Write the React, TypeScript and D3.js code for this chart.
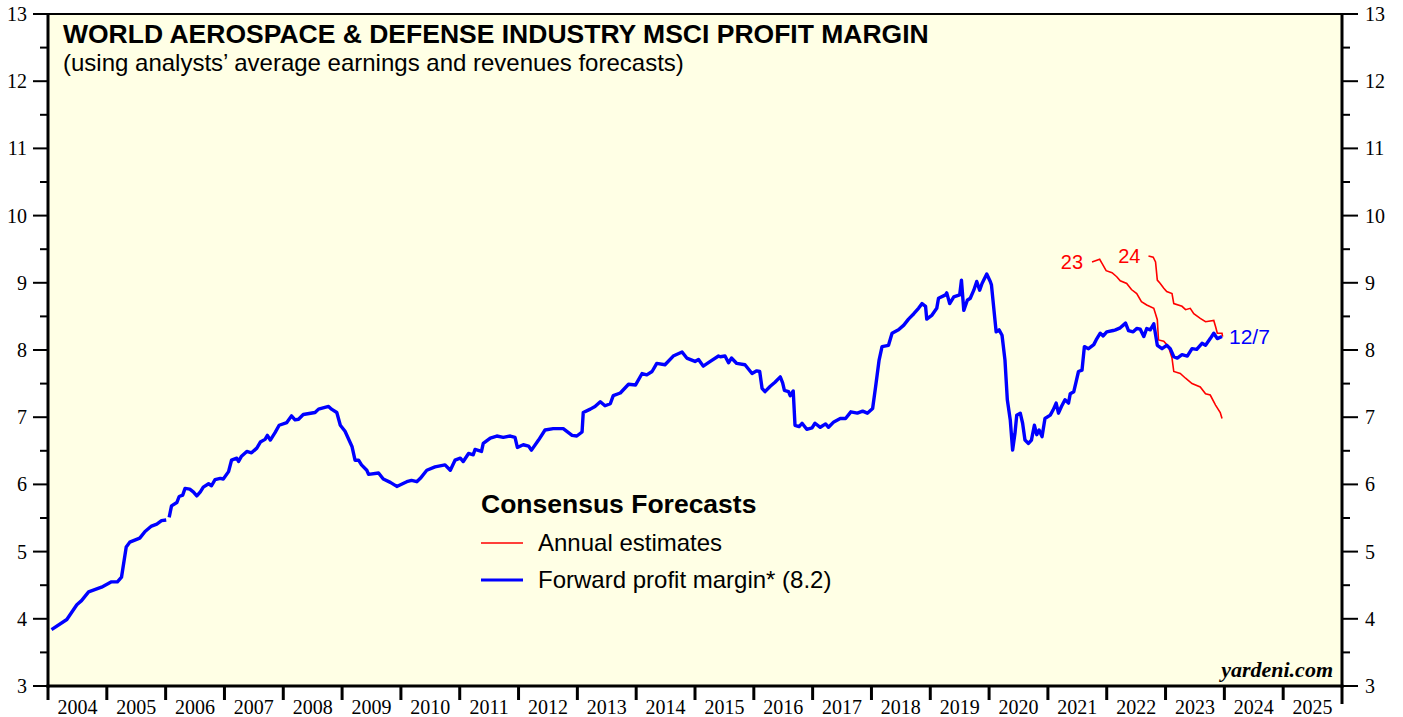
import React from 'react';
import * as d3 from 'd3';

// forward profit margin (weekly) [year, value]
const forwardMargin: [number, number | null][] = [
  [2004.06, 3.84], [2004.32, 3.99], [2004.49, 4.21], [2004.57, 4.27], [2004.69, 4.40],
  [2004.91, 4.47], [2005.08, 4.55], [2005.18, 4.55], [2005.25, 4.62], [2005.33, 5.07],
  [2005.39, 5.14], [2005.56, 5.20], [2005.65, 5.30], [2005.76, 5.38], [2005.85, 5.41],
  [2005.93, 5.46], [2006.01, 5.47], [2006.035, null],
  [2006.06, 5.51], [2006.10, 5.68], [2006.19, 5.73], [2006.23, 5.82], [2006.29, 5.84],
  [2006.33, 5.94], [2006.41, 5.93], [2006.47, 5.89], [2006.53, 5.83], [2006.59, 5.89],
  [2006.64, 5.96], [2006.73, 6.01], [2006.78, 5.98], [2006.84, 6.07], [2006.93, 6.09],
  [2006.98, 6.08], [2007.07, 6.19], [2007.12, 6.36], [2007.21, 6.39], [2007.24, 6.34],
  [2007.29, 6.42], [2007.38, 6.49], [2007.46, 6.47], [2007.55, 6.54], [2007.61, 6.63],
  [2007.69, 6.67], [2007.73, 6.73], [2007.78, 6.66], [2007.86, 6.77], [2007.93, 6.88],
  [2008.06, 6.92], [2008.14, 7.02], [2008.20, 6.96], [2008.26, 6.97], [2008.34, 7.04],
  [2008.54, 7.07], [2008.60, 7.12], [2008.77, 7.16], [2008.82, 7.12], [2008.91, 7.07],
  [2008.97, 6.88], [2009.05, 6.79], [2009.17, 6.56], [2009.22, 6.36], [2009.28, 6.36],
  [2009.33, 6.29], [2009.42, 6.21], [2009.45, 6.15], [2009.62, 6.17], [2009.70, 6.08],
  [2009.82, 6.03], [2009.93, 5.97], [2010.10, 6.04], [2010.18, 6.06], [2010.27, 6.04],
  [2010.33, 6.09], [2010.44, 6.21], [2010.58, 6.26], [2010.75, 6.29], [2010.84, 6.21],
  [2010.92, 6.36], [2011.01, 6.39], [2011.06, 6.34], [2011.15, 6.46], [2011.23, 6.44],
  [2011.26, 6.52], [2011.37, 6.49], [2011.40, 6.61], [2011.52, 6.69], [2011.63, 6.72],
  [2011.74, 6.70], [2011.86, 6.72], [2011.94, 6.70], [2011.98, 6.55], [2012.08, 6.59],
  [2012.17, 6.57], [2012.22, 6.51], [2012.34, 6.66], [2012.45, 6.81], [2012.59, 6.83],
  [2012.76, 6.83], [2012.91, 6.73], [2012.99, 6.72], [2013.08, 6.78], [2013.10, 7.07],
  [2013.22, 7.12], [2013.30, 7.16], [2013.39, 7.23], [2013.47, 7.17], [2013.56, 7.20],
  [2013.61, 7.32], [2013.73, 7.36], [2013.87, 7.49], [2013.99, 7.48], [2014.10, 7.65],
  [2014.18, 7.63], [2014.27, 7.68], [2014.35, 7.80], [2014.49, 7.78], [2014.63, 7.91],
  [2014.78, 7.97], [2014.86, 7.88], [2015.00, 7.83], [2015.06, 7.86], [2015.14, 7.76],
  [2015.26, 7.83], [2015.40, 7.91], [2015.43, 7.90], [2015.51, 7.91], [2015.57, 7.81],
  [2015.62, 7.88], [2015.71, 7.80], [2015.85, 7.78], [2015.97, 7.65], [2016.05, 7.69],
  [2016.10, 7.68], [2016.14, 7.43], [2016.19, 7.38], [2016.28, 7.46], [2016.36, 7.52],
  [2016.45, 7.60], [2016.49, 7.51], [2016.52, 7.40], [2016.59, 7.38], [2016.62, 7.32],
  [2016.67, 7.39], [2016.70, 6.88], [2016.77, 6.86], [2016.82, 6.91], [2016.90, 6.82],
  [2016.99, 6.84], [2017.04, 6.91], [2017.13, 6.85], [2017.22, 6.90], [2017.27, 6.85],
  [2017.36, 6.93], [2017.47, 6.98], [2017.56, 6.98], [2017.65, 7.08], [2017.76, 7.06],
  [2017.85, 7.09], [2017.93, 7.06], [2018.02, 7.13], [2018.07, 7.45], [2018.13, 7.85],
  [2018.18, 8.05], [2018.29, 8.07], [2018.35, 8.25], [2018.46, 8.30], [2018.55, 8.37],
  [2018.63, 8.46], [2018.72, 8.54], [2018.80, 8.62], [2018.86, 8.69], [2018.92, 8.65],
  [2018.94, 8.46], [2019.03, 8.52], [2019.11, 8.62], [2019.14, 8.77], [2019.26, 8.82],
  [2019.28, 8.85], [2019.33, 8.69], [2019.40, 8.79], [2019.50, 8.82], [2019.53, 9.04],
  [2019.57, 8.59], [2019.63, 8.74], [2019.68, 8.77], [2019.74, 8.89], [2019.79, 9.02],
  [2019.84, 8.89], [2019.88, 8.99], [2019.96, 9.13], [2020.02, 9.02], [2020.04, 8.97],
  [2020.12, 8.27], [2020.17, 8.30], [2020.22, 8.22], [2020.27, 7.85], [2020.31, 7.26],
  [2020.36, 6.96], [2020.40, 6.51], [2020.44, 6.76], [2020.47, 7.03], [2020.53, 7.06],
  [2020.57, 6.91], [2020.61, 6.66], [2020.67, 6.61], [2020.72, 6.66], [2020.77, 6.88],
  [2020.81, 6.74], [2020.85, 6.81], [2020.90, 6.71], [2020.95, 6.98], [2021.04, 7.03],
  [2021.09, 7.11], [2021.14, 7.21], [2021.18, 7.06], [2021.23, 7.16], [2021.29, 7.26],
  [2021.35, 7.21], [2021.38, 7.35], [2021.44, 7.38], [2021.48, 7.53], [2021.52, 7.68],
  [2021.58, 7.70], [2021.62, 8.05], [2021.69, 8.02], [2021.78, 8.08], [2021.82, 8.15],
  [2021.89, 8.25], [2021.94, 8.21], [2022.00, 8.27], [2022.11, 8.29], [2022.15, 8.30],
  [2022.23, 8.33], [2022.32, 8.40], [2022.37, 8.29], [2022.45, 8.27], [2022.51, 8.32],
  [2022.57, 8.31], [2022.63, 8.20], [2022.68, 8.32], [2022.74, 8.30], [2022.80, 8.39],
  [2022.86, 8.07], [2022.94, 8.02], [2023.02, 8.07], [2023.08, 8.02], [2023.14, 7.90],
  [2023.20, 7.88], [2023.28, 7.93], [2023.37, 7.91], [2023.45, 8.02], [2023.53, 8.01],
  [2023.62, 8.10], [2023.68, 8.07], [2023.76, 8.17], [2023.82, 8.25], [2023.88, 8.17],
  [2023.96, 8.20],
];

// annual estimates for 2023 and 2024
const estimate2023: [number, number][] = [
  [2021.75, 9.31], [2021.88, 9.35], [2021.92, 9.29], [2021.99, 9.18], [2022.09, 9.15],
  [2022.17, 9.09], [2022.23, 9.03], [2022.34, 8.99], [2022.42, 8.90], [2022.51, 8.84],
  [2022.59, 8.72], [2022.68, 8.67], [2022.80, 8.62], [2022.86, 8.45], [2022.88, 8.15],
  [2022.97, 8.13], [2023.05, 8.05], [2023.11, 7.88], [2023.14, 7.68], [2023.25, 7.65],
  [2023.34, 7.58], [2023.45, 7.50], [2023.59, 7.45], [2023.68, 7.35], [2023.76, 7.33],
  [2023.85, 7.18], [2023.93, 7.07], [2023.96, 6.98],
];
const estimate2024: [number, number][] = [
  [2022.71, 9.40], [2022.79, 9.38], [2022.83, 9.31], [2022.86, 9.04], [2022.91, 8.99],
  [2022.97, 8.92], [2023.02, 8.87], [2023.11, 8.84], [2023.14, 8.69], [2023.28, 8.65],
  [2023.34, 8.60], [2023.42, 8.62], [2023.48, 8.54], [2023.59, 8.47], [2023.68, 8.42],
  [2023.82, 8.44], [2023.85, 8.35], [2023.88, 8.25], [2023.96, 8.25], [2023.97, 8.20],
];

const years = d3.range(2004, 2026);
const yTicks = d3.range(3, 14);
const yMinorTicks = d3.range(3.5, 13, 1);

const W = 1403;
const H = 717;
const plot = { left: 48, right: 1342, top: 14, bottom: 686 };

const sans = '"Liberation Sans", Arial, sans-serif';
const serif = '"Liberation Serif", "Times New Roman", serif';

export default function App() {
  const x = d3.scaleLinear().domain([2004, 2026]).range([plot.left, plot.right]);
  const y = d3.scaleLinear().domain([3, 13]).range([plot.bottom, plot.top]);

  const blueLine = d3.line<[number, number | null]>()
    .defined(d => d[1] !== null)
    .x(d => x(d[0]))
    .y(d => y(d[1] as number));
  const redLine = d3.line<[number, number]>()
    .x(d => x(d[0]))
    .y(d => y(d[1]));

  const last = forwardMargin[forwardMargin.length - 1];

  return (
    <svg width={W} height={H} style={{ position: 'absolute', left: 0, top: 0, background: '#fff' }}>
      <rect x={plot.left} y={plot.top} width={plot.right - plot.left} height={plot.bottom - plot.top} fill="#FFFFE5" />

      {/* y axis ticks, both sides */}
      {yTicks.map(t => (
        <g key={'y' + t}>
          <line x1={plot.left - 15} x2={plot.left} y1={y(t)} y2={y(t)} stroke="#000" strokeWidth={2} />
          <line x1={plot.right} x2={plot.right + 16} y1={y(t)} y2={y(t)} stroke="#000" strokeWidth={2} />
          <text x={27} y={y(t)} dy="0.35em" textAnchor="end" fontFamily={serif} fontSize={20}>{t}</text>
          <text x={1365} y={y(t)} dy="0.35em" textAnchor="start" fontFamily={serif} fontSize={20}>{t}</text>
        </g>
      ))}
      {yMinorTicks.map(t => (
        <g key={'m' + t}>
          <line x1={plot.left - 8} x2={plot.left} y1={y(t)} y2={y(t)} stroke="#000" strokeWidth={2} />
          <line x1={plot.right} x2={plot.right + 8} y1={y(t)} y2={y(t)} stroke="#000" strokeWidth={2} />
        </g>
      ))}

      {/* x axis */}
      {years.map(yr => (
        <g key={'x' + yr}>
          <line x1={x(yr)} x2={x(yr)} y1={plot.bottom} y2={plot.bottom + 14} stroke="#000" strokeWidth={3} />
          <text x={x(yr + 0.5)} y={714} textAnchor="middle" fontFamily={serif} fontSize={20}>{yr}</text>
        </g>
      ))}
      <line x1={x(2026)} x2={x(2026)} y1={plot.bottom} y2={plot.bottom + 18} stroke="#000" strokeWidth={3} />

      {/* frame */}
      <line x1={plot.left} x2={plot.right + 1} y1={plot.top} y2={plot.top} stroke="#000" strokeWidth={2} />
      <line x1={plot.left} x2={plot.left} y1={plot.top - 1} y2={plot.bottom + 1.5} stroke="#000" strokeWidth={3} />
      <line x1={plot.right} x2={plot.right} y1={plot.top - 1} y2={plot.bottom + 1.5} stroke="#000" strokeWidth={3} />
      <line x1={plot.left - 1.5} x2={plot.right + 1.5} y1={plot.bottom} y2={plot.bottom} stroke="#000" strokeWidth={3} />

      {/* series */}
      <path d={redLine(estimate2023) || ''} fill="none" stroke="#FF0000" strokeWidth={1.6} />
      <path d={redLine(estimate2024) || ''} fill="none" stroke="#FF0000" strokeWidth={1.6} />
      <path d={blueLine(forwardMargin) || ''} fill="none" stroke="#0000FF" strokeWidth={3.4} strokeLinejoin="round" />

      <text x={x(estimate2023[0][0]) - 9} y={y(estimate2023[0][1])} dy="0.35em" textAnchor="end" fill="#FF0000" fontFamily={sans} fontSize={20}>23</text>
      <text x={x(estimate2024[0][0]) - 8} y={y(estimate2024[0][1])} dy="0.35em" textAnchor="end" fill="#FF0000" fontFamily={sans} fontSize={20}>24</text>
      <text x={x(last[0]) + 7} y={y(last[1] as number)} dy="0.35em" fill="#0000FF" fontFamily={sans} fontSize={21}>12/7</text>

      {/* titles */}
      <text x={63} y={43} fontFamily={sans} fontWeight="bold" fontSize={26.5}>WORLD AEROSPACE &amp; DEFENSE INDUSTRY MSCI PROFIT MARGIN</text>
      <text x={63} y={71} fontFamily={sans} fontSize={24}>(using analysts’ average earnings and revenues forecasts)</text>

      {/* legend */}
      <text x={481} y={513} fontFamily={sans} fontWeight="bold" fontSize={26.5}>Consensus Forecasts</text>
      <line x1={481} x2={523} y1={543} y2={543} stroke="#FF0000" strokeWidth={1.6} />
      <text x={538} y={551} fontFamily={sans} fontSize={24}>Annual estimates</text>
      <line x1={481} x2={523} y1={580} y2={580} stroke="#0000FF" strokeWidth={3} />
      <text x={538} y={588} fontFamily={sans} fontSize={24}>Forward profit margin* (8.2)</text>

      <text x={1333} y={677} textAnchor="end" fontFamily={serif} fontWeight="bold" fontStyle="italic" fontSize={22}>yardeni.com</text>
    </svg>
  );
}
